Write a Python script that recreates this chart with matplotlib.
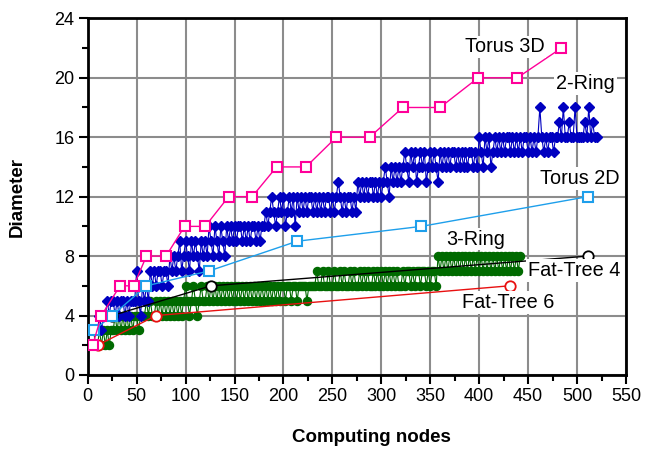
import numpy as np
import matplotlib
matplotlib.use("Agg")
import matplotlib.pyplot as plt

plt.rcParams['font.family'] = ['Liberation Sans', 'DejaVu Sans']

# Torus 3D (pink squares)
torus3d_x = [5, 14, 33, 47, 60, 80, 99, 120, 144, 168, 193, 223, 254, 288, 322, 360, 399, 439, 484]
torus3d_y = [2, 4, 6, 6, 8, 8, 10, 10, 12, 12, 14, 14, 16, 16, 18, 18, 20, 20, 22]

# Torus 2D (light blue squares)
torus2d_x = [6, 25, 60, 124, 214, 341, 511]
torus2d_y = [3, 4, 6, 7, 9, 10, 12]

# Fat-Tree 4 and Fat-Tree 6 (open circles)
ft4_x = [25, 126, 511]
ft4_y = [4, 6, 8]
ft6_x = [10, 70, 431]
ft6_y = [2, 4, 6]

# 2-Ring: one value every 2 nodes, from 8 to 520
ring2_x = np.arange(8, 521, 2)
ring2_y = [
    3, 3, 4, 3, 4, 4,
    5, 4, 5, 5, 4, 5, 4, 5, 5, 4,
    5, 4, 5, 5, 5, 7, 5, 4, 6, 5,
    6, 5, 7, 6, 7, 6, 7, 7, 6, 7,
    7, 6, 8, 7, 8, 7, 8, 9, 7, 8,
    9, 8, 7, 9, 8, 9, 8, 7, 9, 8,
    9, 8, 10, 9, 8, 10, 9, 8, 10, 9,
    8, 10, 9, 10, 9, 10, 9, 10, 10, 9,
    10, 9, 10, 9, 10, 10, 9, 10, 9, 10,
    10, 11, 10, 11, 12, 11, 10, 11, 12, 11,
    12, 10, 11, 12, 11, 12, 10, 12, 11, 12,
    11, 12, 11, 12, 12, 11, 12, 11, 12, 11,
    12, 11, 12, 12, 11, 12, 11, 12, 13, 12,
    11, 12, 11, 12, 12, 11, 12, 11, 13, 12,
    13, 12, 13, 12, 13, 13, 12, 13, 12, 13,
    12, 13, 14, 13, 12, 14, 13, 14, 13, 14,
    13, 14, 15, 14, 13, 15, 14, 15, 13, 14,
    15, 14, 15, 13, 14, 15, 14, 15, 14, 13,
    15, 14, 15, 14, 15, 14, 15, 15, 14, 15,
    14, 15, 14, 15, 14, 15, 15, 14, 15, 14,
    16, 15, 14, 16, 15, 16, 14, 15, 16, 15,
    16, 15, 16, 15, 16, 16, 15, 16, 15, 16,
    15, 16, 15, 16, 16, 15, 16, 15, 16, 15,
    16, 18, 16, 15, 16, 15, 16, 16, 15, 16,
    16, 17, 16, 18, 16, 16, 17, 16, 16, 18,
    16, 16, 16, 16, 17, 16, 18, 16, 17, 16, 16,
]

# 3-Ring: one value every 2 nodes, from 6 to 442
ring3_x = np.arange(6, 443, 2)
ring3_y = [
    3, 2, 2, 3, 2, 3, 2,
    3, 2, 3, 3, 4, 3, 4, 3, 4, 3,
    4, 3, 4, 3, 4, 4, 3, 4, 4, 4,
    5, 4, 5, 4, 4, 5, 4, 5, 4, 5,
    4, 5, 4, 5, 4, 5, 4, 5, 4, 5,
    6, 5, 4, 5, 6, 5, 4, 5, 6, 5,
    5, 6, 5, 6, 5, 6, 5, 6, 5, 6,
    5, 6, 5, 6, 5, 6, 5, 6, 5, 6,
    5, 6, 5, 6, 5, 6, 5, 6, 5, 6,
    5, 6, 5, 6, 5, 6, 5, 6, 5, 6,
    6, 5, 6, 6, 5, 6, 6, 5, 6, 6,
    6, 6, 5, 6, 6, 6, 6, 7, 6, 6,
    7, 6, 6, 7, 6, 6, 7, 6, 6, 7,
    6, 7, 6, 6, 7, 6, 7, 6, 6, 7,
    6, 7, 6, 7, 6, 6, 7, 6, 7, 6,
    7, 6, 7, 6, 7, 6, 7, 6, 7, 6,
    6, 7, 6, 7, 7, 6, 7, 6, 7, 7,
    6, 7, 7, 6, 7, 6, 7, 7, 6, 8,
    7, 8, 7, 8, 7, 8, 7, 8, 7, 8,
    7, 8, 7, 8, 7, 8, 7, 8, 7, 8,
    7, 8, 7, 8, 7, 8, 7, 8, 7, 8,
    7, 8, 7, 8, 7, 8, 7, 8, 7, 8, 7, 8,
]

c_pink = '#FF0099'
c_lblue = '#1E9FEB'
c_blue = '#0000C0'
c_green = '#006A00'
c_red = '#E81010'

fig = plt.figure(figsize=(6.45, 4.5), dpi=100)
ax = fig.add_axes([0.136, 0.1667, 0.8345, 0.7926])

ax.plot(ring3_x, ring3_y, color=c_green, lw=0.8, marker='o', ms=5.8,
        mfc=c_green, mec=c_green, zorder=3)
ax.plot(ring2_x, ring2_y, color=c_blue, lw=0.8, marker='D', ms=5.2,
        mfc=c_blue, mec=c_blue, zorder=4)
ax.plot(ft6_x, ft6_y, color=c_red, lw=1, marker='o', ms=7.5,
        mfc='white', mec=c_red, mew=1.3, zorder=5)
ax.plot(ft4_x, ft4_y, color='black', lw=1, marker='o', ms=7.5,
        mfc='white', mec='black', mew=1.3, zorder=6)
ax.plot(torus2d_x, torus2d_y, color=c_lblue, lw=1, marker='s', ms=7.5,
        mfc='white', mec=c_lblue, mew=1.5, zorder=7)
ax.plot(torus3d_x, torus3d_y, color=c_pink, lw=1, marker='s', ms=7.5,
        mfc='white', mec=c_pink, mew=1.5, zorder=8)

ax.set_xlim(0, 550)
ax.set_ylim(0, 24)
ax.set_xticks(range(0, 551, 50))
ax.set_xticks(range(0, 551, 25), minor=True)
ax.set_yticks(range(0, 25, 4))
ax.set_yticks(range(0, 25, 2), minor=True)
ax.grid(which='major', color='#8c8c8c', lw=1.5)
ax.set_axisbelow(True)
ax.tick_params(which='major', direction='out', length=6.5, width=1.5,
               labelsize=13, pad=3)
ax.tick_params(which='minor', direction='out', length=4, width=1.5)
for s in ax.spines.values():
    s.set_linewidth(2)

fig.text(371 / 645, 1 - 437 / 450, 'Computing nodes', ha='center', va='center',
         fontsize=13.5, fontweight='bold')
fig.text(17.5 / 645, 1 - 197 / 450, 'Diameter', ha='center', va='center',
         rotation=90, fontsize=13.5, fontweight='bold')

box = dict(facecolor='white', edgecolor='none', pad=1.5)
labels = [('Torus 3D', 426, 22.07), ('2-Ring', 509, 19.6), ('Torus 2D', 503, 13.2),
          ('3-Ring', 396.6, 9.15), ('Fat-Tree 4', 497.3, 7.0), ('Fat-Tree 6', 429.3, 4.88)]
for txt, lx, ly in labels:
    ax.text(lx, ly, txt, ha='center', va='center', fontsize=14.3, bbox=box, zorder=10)

fig.savefig('out.png', dpi=100)
